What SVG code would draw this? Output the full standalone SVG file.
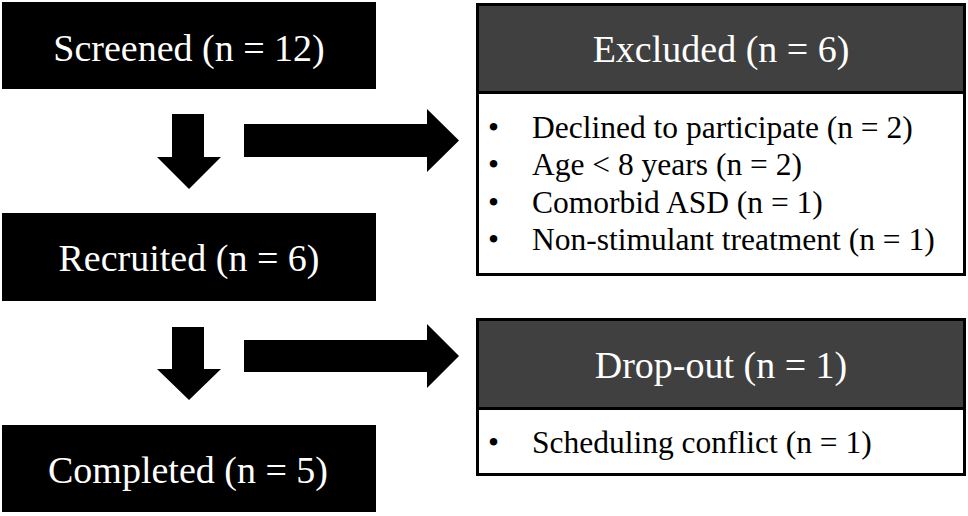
<svg xmlns="http://www.w3.org/2000/svg" width="968" height="516" viewBox="0 0 968 516">
<style>
.blk{fill:#000}
.hdr{fill:#404040}
.frame{fill:none;stroke:#000;stroke-width:3}
.wt{fill:#fff;font-family:"Liberation Serif","Times New Roman",serif;font-size:38px;text-anchor:middle}
.bt{fill:#000;font-family:"Liberation Serif","Times New Roman",serif;font-size:31.5px}
.arrow{fill:#000}
</style>
<rect width="968" height="516" fill="#fff"/>
<g id="screened">
<rect class="blk" x="2" y="2" width="374" height="87"/>
<text class="wt" x="189" y="61">Screened (n = 12)</text>
</g>
<g id="recruited">
<rect class="blk" x="2" y="213" width="374" height="88"/>
<text class="wt" x="189" y="271">Recruited (n = 6)</text>
</g>
<g id="completed">
<rect class="blk" x="2" y="425" width="374" height="87"/>
<text class="wt" x="188" y="483">Completed (n = 5)</text>
</g>
<g id="excluded">
<rect x="477.5" y="4.5" width="487" height="270" fill="#fff"/>
<rect class="hdr" x="477.5" y="4.5" width="487" height="88"/>
<line x1="477.5" y1="92.5" x2="964.5" y2="92.5" stroke="#000" stroke-width="3"/>
<rect class="frame" x="477.5" y="4.5" width="487" height="270"/>
<text class="wt" x="721" y="62">Excluded (n = 6)</text>
<g class="bt">
<text x="488" y="138">•</text><text x="532" y="138">Declined to participate (n = 2)</text>
<text x="488" y="175">•</text><text x="532" y="175">Age &lt; 8 years (n = 2)</text>
<text x="488" y="213">•</text><text x="532" y="213">Comorbid ASD (n = 1)</text>
<text x="488" y="250">•</text><text x="532" y="250">Non-stimulant treatment (n = 1)</text>
</g>
</g>
<g id="dropout">
<rect x="477.5" y="319.5" width="487" height="155" fill="#fff"/>
<rect class="hdr" x="477.5" y="319.5" width="487" height="89"/>
<line x1="477.5" y1="408.5" x2="964.5" y2="408.5" stroke="#000" stroke-width="3"/>
<rect class="frame" x="477.5" y="319.5" width="487" height="155"/>
<text class="wt" x="721" y="378">Drop-out (n = 1)</text>
<g class="bt">
<text x="488" y="453">•</text><text x="532" y="453">Scheduling conflict (n = 1)</text>
</g>
</g>
<g id="connectors">
<polygon class="arrow" points="172,114 204,114 204,157 221,157 189,189 157,157 172,157"/>
<polygon class="arrow" points="244,124 427,124 427,109 459,140.5 427,172 427,157 244,157"/>
<polygon class="arrow" points="172,327 204,327 204,369 221,369 189,400 157,369 172,369"/>
<polygon class="arrow" points="244,340 427,340 427,324 459,356 427,388 427,372 244,372"/>
</g>
</svg>
